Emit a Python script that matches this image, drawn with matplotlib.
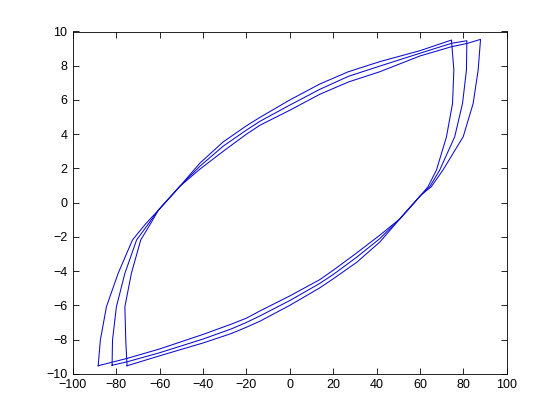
import numpy as np
import matplotlib
matplotlib.use('Agg')
import matplotlib.pyplot as plt


plt.rcParams['font.family'] = ['Liberation Sans', 'DejaVu Sans']

# outer loop (corners near +-88)
loop1_up_x = [-88.3, -87.3, -84.5, -79.1, -72.5, -66.5, -60.5, -50.7, -41.5, -30.7, -20.0, -13.8, 0.0, 13.8, 27.0, 41.5, 60.0, 74.5, 81.6, 87.9]
loop1_up_y = [-9.53, -8.03, -6.08, -4.13, -2.18, -1.25, -0.43, 0.95, 1.95, 3.00, 4.00, 4.52, 5.40, 6.33, 7.05, 7.65, 8.57, 9.11, 9.30, 9.54]
loop1_down_x = [87.9, 86.8, 84.5, 79.9, 70.6, 65.2, 60.5, 50.7, 41.5, 30.7, 20.0, 13.8, 0.0, -13.8, -20.0, -27.0, -40.0, -60.0, -75.0, -88.3]
loop1_down_y = [9.54, 7.75, 5.80, 3.85, 1.91, 0.93, 0.45, -0.95, -1.90, -2.95, -3.95, -4.50, -5.45, -6.33, -6.75, -7.10, -7.70, -8.55, -9.10, -9.53]

# middle loop (corners near +-82)
loop2_up_x = [-81.9, -81.7, -79.9, -76.0, -70.6, -65.5, -60.5, -50.7, -41.5, -30.7, -20.0, -13.8, 0.0, 13.8, 27.0, 41.5, 60.0, 74.5, 81.6]
loop2_up_y = [-9.50, -8.03, -6.08, -4.13, -2.18, -1.30, -0.43, 0.95, 2.12, 3.30, 4.24, 4.75, 5.70, 6.62, 7.38, 7.98, 8.73, 9.31, 9.46]
loop2_down_x = [81.6, 81.4, 79.6, 76.0, 69.1, 64.5, 60.5, 50.7, 41.5, 30.7, 20.0, 13.8, 0.0, -13.8, -20.0, -27.0, -40.0, -60.0, -75.0, -81.9]
loop2_down_y = [9.46, 7.75, 5.80, 3.85, 1.91, 0.93, 0.45, -0.95, -2.10, -3.20, -4.20, -4.72, -5.72, -6.62, -7.00, -7.38, -7.97, -8.77, -9.30, -9.50]

# inner loop (corners near +-75)
loop3_up_x = [-75.0, -75.6, -76.0, -73.0, -68.7, -64.5, -60.5, -50.7, -41.5, -30.7, -20.0, -13.8, 0.0, 13.8, 27.0, 41.5, 60.0, 74.5]
loop3_up_y = [-9.53, -8.03, -6.08, -4.13, -2.18, -1.30, -0.43, 0.95, 2.30, 3.55, 4.49, 4.98, 6.00, 6.93, 7.65, 8.24, 8.88, 9.50]
loop3_down_x = [74.5, 75.6, 75.0, 72.2, 67.6, 63.7, 60.5, 50.7, 41.5, 30.7, 20.0, 13.8, 0.0, -13.8, -20.0, -27.0, -40.0, -60.0, -75.0]
loop3_down_y = [9.50, 7.75, 5.80, 3.85, 1.91, 0.93, 0.45, -0.95, -2.30, -3.50, -4.45, -4.98, -6.00, -6.93, -7.28, -7.65, -8.20, -8.95, -9.53]

x_ticks = np.arange(-100, 101, 20)
y_ticks = np.arange(-10, 11, 2)


loops = [
    (loop1_up_x, loop1_up_y, loop1_down_x, loop1_down_y),
    (loop2_up_x, loop2_up_y, loop2_down_x, loop2_down_y),
    (loop3_up_x, loop3_up_y, loop3_down_x, loop3_down_y),
]

fig = plt.figure(figsize=(5.6, 4.2), dpi=100)
ax = fig.add_axes([0.13, 0.11, 0.775, 0.815])

for ux, uy, dx, dy in loops:
    xs = list(ux) + list(dx[1:])
    ys = list(uy) + list(dy[1:])
    ax.plot(xs, ys, color='#0a0ad0', linewidth=0.75)

ax.set_xlim(-100, 100)
ax.set_ylim(-10, 10)
ax.set_xticks(x_ticks)
ax.set_yticks(y_ticks)
ax.tick_params(direction='in', length=4, width=0.6, labelsize=9,
               top=True, right=True, pad=4)
for side in ax.spines.values():
    side.set_linewidth(0.6)

fig.savefig('out.png', dpi=100, facecolor='white')
